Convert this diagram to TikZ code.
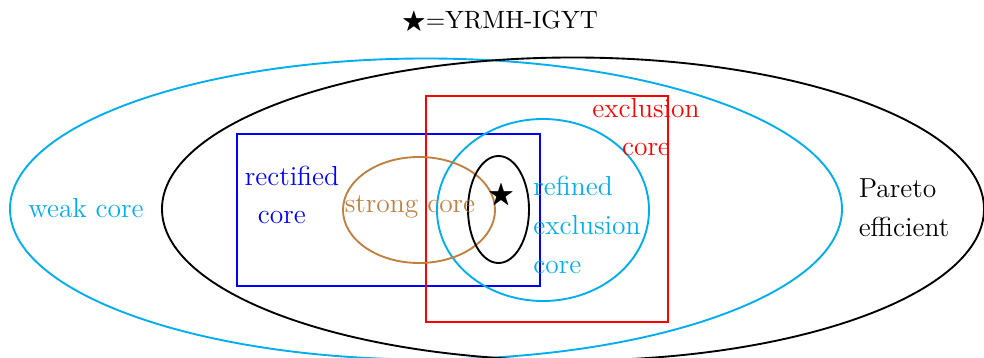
\documentclass[tikz,border=0pt]{standalone}
\usepackage{amssymb}
\definecolor{corecyan}{RGB}{0,174,239}
\definecolor{corebrown}{RGB}{191,128,64}
\begin{document}
\begin{tikzpicture}[x=0.4pt,y=0.4pt,line width=0.75pt,
every node/.style={font=\fontsize{11}{15.5}\selectfont,inner sep=0pt},
lab/.style={align=center},
labl/.style={align=left}]
\useasboundingbox (0,0) rectangle (984,-358);
% sets
\draw[corecyan] (426,-209) ellipse [x radius=166.4pt,y radius=60.2pt];
\draw (573,-209) ellipse [x radius=164.4pt,y radius=60.6pt];
\draw[blue] (237,-134) rectangle (540,-286);
\draw[red] (426,-96) rectangle (668,-322);
\draw[corecyan] (543,-210) ellipse [x radius=42.4pt,y radius=36.4pt];
\draw[corebrown] (419,-210) ellipse [x radius=30.4pt,y radius=21.2pt];
\draw (498.5,-209.5) ellipse [x radius=12.2pt,y radius=21.4pt];
% labels
\node[font=\fontsize{10}{12}\selectfont] (yrmh) at (500,-22) {$\bigstar$=YRMH-IGYT};
\node (star) at (501,-196) {$\bigstar$};
\node[lab,text=corecyan] (weak) at (86,-208) {weak core};
\node[labl,text=blue] (rectified) at (292,-195) {rectified\\\hspace*{5.2pt}core};
\node[lab,text=corebrown] (strong) at (410,-207) {strong core};
\node[labl,text=corecyan] (refined) at (587,-225) {refined\\exclusion\\core};
\node[lab,text=red] (excl) at (646,-127) {exclusion\\core};
\node[labl] (pareto) at (904,-208) {Pareto\\efficient};
\end{tikzpicture}
\end{document}
